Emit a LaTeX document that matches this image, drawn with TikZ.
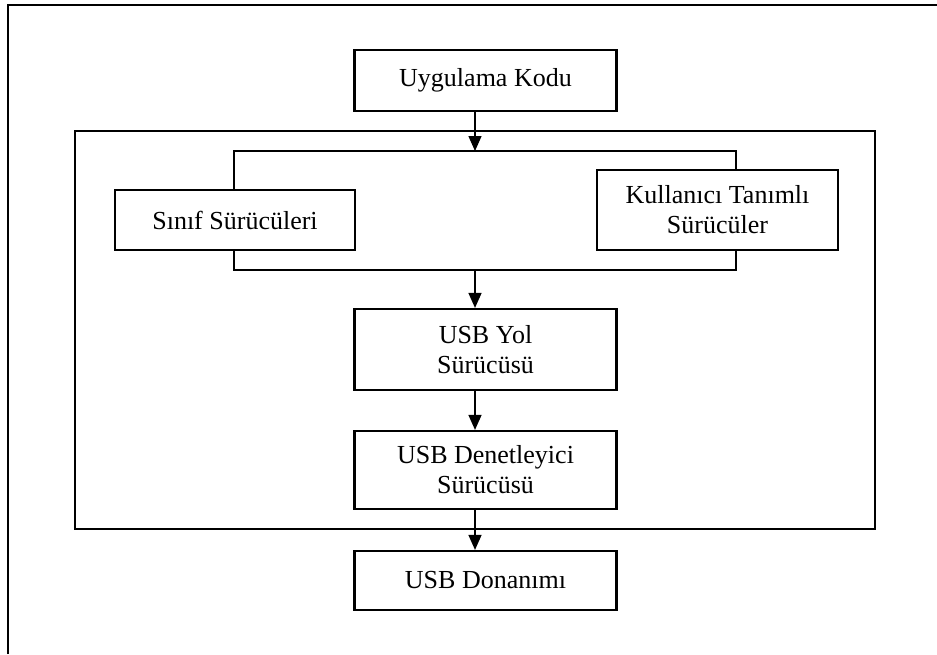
\documentclass[tikz,border=0pt]{standalone}
\usepackage{fontspec}
\setmainfont{Liberation Serif}
\usetikzlibrary{arrows.meta}
\begin{document}
\begin{tikzpicture}[x=1pt,y=-1pt,
  box/.style={draw, line width=2.2pt, minimum width=262pt, align=center, inner sep=0pt,
    font=\fontsize{26}{30}\selectfont},
  arr/.style={line width=1.4pt, -{Triangle[length=15pt,width=13pt]}},
  line/.style={line width=2.2pt}]
\useasboundingbox (0,0) rectangle (937,654);
% outer frame (only top and left visible)
\coordinate (ofb) at (8,654);
\coordinate (oft) at (8,5);
\coordinate (ofr) at (937,5);
\draw[line] (ofb) -- (oft) -- (ofr);
% inner frame
\node[draw, line width=2.2pt, minimum width=800pt, minimum height=398pt, inner sep=0pt] (inner) at (475,330) {};
% boxes
\node[box, minimum height=61pt] (uyg) at (485.5,80.5) {Uygulama Kodu};
\node[box, minimum width=240pt, minimum height=60pt] (sinif) at (235,220) {Sınıf Sürücüleri};
\node[box, minimum width=241pt, minimum height=80pt] (kull) at (717.5,210) {Kullanıcı Tanımlı\\Sürücüler};
\node[box, minimum height=81pt] (yol) at (485.5,349.5) {USB Yol\\Sürücüsü};
\node[box, minimum height=78pt] (den) at (485.5,470) {USB Denetleyici\\Sürücüsü};
\node[box, minimum height=59pt] (don) at (485.5,580.5) {USB Donanımı};
% bracket
\coordinate (btl) at (234,151);
\coordinate (btr) at (736,151);
\coordinate (bbl) at (234,270);
\coordinate (bbr) at (736,270);
\coordinate (bt) at (475,151);
\coordinate (bb) at (475,270);
\draw[line] (sinif.north -| btl) -- (btl) -- (btr) -- (kull.north -| btr);
\draw[line] (sinif.south -| bbl) -- (bbl) -- (bbr) -- (kull.south -| bbr);
% arrows
\draw[arr] (uyg.south -| bt) -- (bt);
\draw[arr] (bb) -- (yol.north -| bb);
\draw[arr] (yol.south -| bb) -- (den.north -| bb);
\draw[arr] (den.south -| bb) -- (don.north -| bb);
\end{tikzpicture}
\end{document}
